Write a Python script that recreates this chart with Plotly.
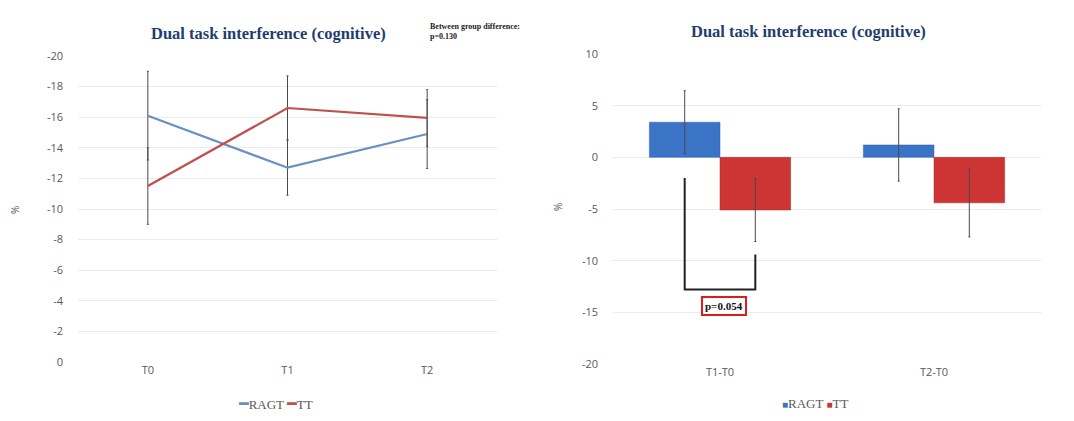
import plotly.graph_objects as go

# ---- data: left chart (line, reversed y) ----
time_points = ["T0", "T1", "T2"]
ragt_line = [-16.1, -12.7, -14.9]
ragt_line_err = [2.9, 1.8, 2.25]
tt_line = [-11.5, -16.6, -15.95]
tt_line_err = [2.5, 2.1, 1.85]

# ---- data: right chart (bars) ----
diff_cats = ["T1-T0", "T2-T0"]
ragt_bar = [3.4, 1.2]
ragt_bar_err = [3.05, 3.5]
tt_bar = [-5.1, -4.4]
tt_bar_err = [3.05, 3.3]

left_ticks = [-20, -18, -16, -14, -12, -10, -8, -6, -4, -2, 0]
right_ticks = [10, 5, 0, -5, -10, -15, -20]

# significance bracket (y values in data units)
bracket_left_top = -2.0
bracket_bottom = -12.8
bracket_right_top = -9.4
p_label = "p=0.054"
p_label_y = -14.4
between_text = "Between group difference:<br>p=0.130"
title_text = "Dual task interference (cognitive)"

BARGAP = 0.34
BLUE_LINE = "#6a8fc3"
RED_LINE = "#c0504d"
BLUE_BAR = "#3b73c6"
RED_BAR = "#cc3533"
ERR = "#4a4a4a"
TICK = "#595959"
GRID = "#ebebeb"
SERIF = "Liberation Serif, Times New Roman, serif"
SANS = "Open Sans, sans-serif"

# page body has an 8px margin: figure is placed at (8, 8) in the window
OFF = 8
W, H = 1074 - OFF, 421 - OFF


def fx(px):
    return (px - OFF) / W


def fy(py):
    return 1 - (py - OFF) / H


fig = go.Figure()

fig.add_trace(go.Scatter(
    x=time_points, y=ragt_line, name="RAGT", mode="lines",
    line=dict(color=BLUE_LINE, width=2.2),
    error_y=dict(type="data", array=ragt_line_err, color=ERR, thickness=1, width=1),
    xaxis="x", yaxis="y"))
fig.add_trace(go.Scatter(
    x=time_points, y=tt_line, name="TT", mode="lines",
    line=dict(color=RED_LINE, width=2.2),
    error_y=dict(type="data", array=tt_line_err, color=ERR, thickness=1, width=1),
    xaxis="x", yaxis="y"))

fig.add_trace(go.Bar(
    x=diff_cats, y=ragt_bar, name="RAGT",
    marker=dict(color=BLUE_BAR, line=dict(color="#2f62ad", width=0.5)),
    error_y=dict(type="data", array=ragt_bar_err, color=ERR, thickness=1, width=1),
    xaxis="x2", yaxis="y2"))
fig.add_trace(go.Bar(
    x=diff_cats, y=tt_bar, name="TT",
    marker=dict(color=RED_BAR, line=dict(color="#a82b28", width=0.5)),
    error_y=dict(type="data", array=tt_bar_err, color=ERR, thickness=1, width=1),
    xaxis="x2", yaxis="y2"))

axis_common = dict(showline=False, zeroline=False, ticks="", automargin=False,
                   tickfont=dict(family=SANS, size=11, color=TICK))

fig.update_layout(
    width=W, height=H,
    margin=dict(l=0, r=0, t=0, b=0, autoexpand=False),
    paper_bgcolor="white", plot_bgcolor="white",
    barmode="group", bargap=BARGAP, bargroupgap=0,
    showlegend=False,
    xaxis=dict(domain=[fx(78), fx(497)], range=[-0.5, 2.5], showgrid=False,
               anchor="y", **axis_common),
    yaxis=dict(domain=[fy(362), fy(56)], range=[0, -20], tickvals=left_ticks,
               ticktext=[str(v) for v in left_ticks],
               showgrid=True, gridcolor=GRID, anchor="x", ticklabelstandoff=14,
               **axis_common),
    xaxis2=dict(domain=[fx(613), fx(1041)], range=[-0.5, 1.5], showgrid=False,
                anchor="y2", **axis_common),
    yaxis2=dict(domain=[fy(364), fy(54)], range=[-20, 10], tickvals=right_ticks,
                ticktext=[str(v) for v in right_ticks],
                showgrid=True, gridcolor=GRID, anchor="x2", ticklabelstandoff=14,
                **axis_common),
)

# legends (Excel-style compact legends)
fig.add_annotation(
    text=(f"<span style='color:{BLUE_LINE};font-family:DejaVu Sans;font-size:16px'>━</span>RAGT "
          f"<span style='color:{RED_LINE};font-family:DejaVu Sans;font-size:16px'>━</span>TT"),
    xref="paper", yref="paper", x=fx(275), y=fy(403), xanchor="center", yanchor="middle",
    showarrow=False, font=dict(family=SERIF, size=13, color=TICK))
fig.add_annotation(
    text=f"<span style='color:{BLUE_BAR};font-size:10px'>■</span>RAGT <span style='color:{RED_BAR};font-size:10px'>■</span>TT",
    xref="paper", yref="paper", x=fx(815), y=fy(403), xanchor="center", yanchor="middle",
    showarrow=False, font=dict(family=SERIF, size=13, color=TICK))

# titles and labels
fig.add_annotation(text=f"<b>{title_text}</b>", xref="paper", yref="paper",
                   x=fx(268), y=fy(34), xanchor="center", yanchor="middle", showarrow=False,
                   font=dict(family=SERIF, size=16.5, color="#1f3d6e"))
fig.add_annotation(text=f"<b>{title_text}</b>", xref="paper", yref="paper",
                   x=fx(808), y=fy(31), xanchor="center", yanchor="middle", showarrow=False,
                   font=dict(family=SERIF, size=16.5, color="#1f3d6e"))
fig.add_annotation(text=f"<b>{between_text}</b>", xref="paper", yref="paper",
                   x=fx(428), y=fy(31), xanchor="left", yanchor="middle", align="left",
                   showarrow=False, font=dict(family=SERIF, size=8, color="#222222"))
fig.add_annotation(text="%", xref="paper", yref="paper", x=fx(15), y=fy(210),
                   xanchor="center", yanchor="middle",
                   textangle=-90, showarrow=False, font=dict(family=SANS, size=10, color=TICK))
fig.add_annotation(text="%", xref="paper", yref="paper", x=fx(558), y=fy(207),
                   xanchor="center", yanchor="middle",
                   textangle=-90, showarrow=False, font=dict(family=SANS, size=10, color=TICK))

# significance bracket between the T1-T0 bars
half = (1 - BARGAP) / 4
xl, xr = -half, half
fig.add_shape(type="path", xref="x2", yref="y2",
              path=f"M {xl} {bracket_left_top} L {xl} {bracket_bottom} L {xr} {bracket_bottom} L {xr} {bracket_right_top}",
              line=dict(color="#222222", width=2))
fig.add_annotation(text=f"<b>{p_label}</b>", xref="x2", yref="y2", x=(xl + xr) / 2 + 0.02,
                   y=p_label_y, xanchor="center", yanchor="middle", showarrow=False,
                   bordercolor="#e01b1b", borderwidth=2,
                   borderpad=2, bgcolor="white",
                   font=dict(family=SERIF, size=11, color="#111111"))

fig.write_html("out.html")
